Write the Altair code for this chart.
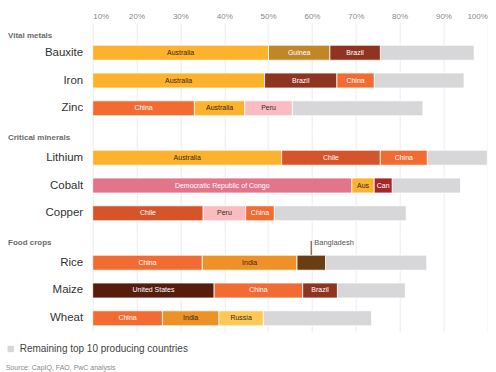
import altair as alt
import pandas as pd

FONT = "Liberation Sans"
AXIS_MIN, AXIS_MAX = 10, 100

groups = ["Vital metals", "Critical minerals", "Food crops"]
group_items = [
    ["Bauxite", "Iron", "Zinc"],
    ["Lithium", "Cobalt", "Copper"],
    ["Rice", "Maize", "Wheat"],
]
producers = [
    ["Australia", "Guinea", "Brazil"],
    ["Australia", "Brazil", "China"],
    ["China", "Australia", "Peru"],
    ["Australia", "Chile", "China"],
    ["Democratic Republic of Congo", "Aus", "Can"],
    ["Chile", "Peru", "China"],
    ["China", "India", "Bangladesh"],
    ["United States", "China", "Brazil"],
    ["China", "India", "Russia"],
]
# share widths in percentage points
shares = [
    [40.1, 14.0, 11.5],
    [39.2, 16.5, 8.5],
    [23.2, 11.5, 10.8],
    [43.1, 22.5, 10.7],
    [59.1, 5.1, 4.1],
    [25.2, 9.7, 6.5],
    [25.0, 21.6, 6.5],
    [27.7, 20.2, 7.9],
    [15.9, 12.9, 10.1],
]
remaining = [21.4, 20.5, 29.8, 13.7, 15.6, 30.1, 23.1, 15.5, 24.7]
rest_label = "Remaining top 10 producing countries"
source_text = "Source: CapIQ, FAO, PwC analysis"
annotated = "Bangladesh"

country_colors = {
    "Australia": "#fdb22e",
    "Aus": "#fdb22e",
    "Guinea": "#c18628",
    "Brazil": "#8f3420",
    "China": "#f26b32",
    "Peru": "#f9bcc1",
    "Chile": "#d5542a",
    "Democratic Republic of Congo": "#e2758a",
    "Can": "#a3282a",
    "India": "#ee9127",
    "Bangladesh": "#6a3e13",
    "United States": "#561c0d",
    "Russia": "#fdc956",
}
dark_text = {"Australia", "Aus", "Peru", "India", "Russia"}
REST_COLOR = "#d7d7d9"

rows = []
k = 0
for g, items in zip(groups, group_items):
    for item in items:
        pos = AXIS_MIN
        for lab, w in zip(producers[k], shares[k]):
            rows.append(dict(group=g, commodity=item, label=lab, kind="seg",
                             start=pos, end=pos + w))
            pos += w
        rows.append(dict(group=g, commodity=item, label=rest_label, kind="rest",
                         start=pos, end=pos + remaining[k]))
        k += 1
df = pd.DataFrame(rows)
df["mid"] = (df["start"] + df["end"]) / 2
df["fillc"] = df["label"].map(country_colors).fillna(REST_COLOR)
df["textc"] = df["label"].apply(lambda s: "#3a2a12" if s in dark_text else "#ffffff")
df["text"] = df["label"].apply(lambda s: "" if s == annotated else s)

panel_cfg = [
    # height, paddingOuter, align, title offset
    (104.4, 0.608, 0.657, -28),
    (104.4, 0.608, 0.657, -14),
    (99.3, 0.516, 0.7735, -14),
]

xscale = alt.Scale(domain=[AXIS_MIN, AXIS_MAX], nice=False, zero=False)


def make_panel(i):
    g = groups[i]
    h, po, al, toff = panel_cfg[i]
    d = df[df["group"] == g]
    if i == 0:
        xaxis = alt.Axis(orient="top", values=list(range(10, 101, 10)),
                         labelExpr="datum.value + '%'", labelFontSize=8,
                         labelColor="#8a8a8a", labelFont=FONT, ticks=False,
                         tickSize=0, domain=False, labelPadding=3,
                         gridColor="#ececec", gridWidth=1, title=None)
    else:
        xaxis = alt.Axis(orient="top", values=list(range(10, 101, 10)),
                         labels=False, ticks=False, tickSize=0, domain=False,
                         gridColor="#ececec", gridWidth=1, title=None)
    y = alt.Y("commodity:N", sort=group_items[i], title=None,
              scale=alt.Scale(paddingInner=0.46, paddingOuter=po, align=al),
              axis=alt.Axis(labelFontSize=11.5, labelColor="#333333",
                            labelFont=FONT, labelPadding=10, ticks=False,
                            tickSize=0, domain=False, grid=False))
    x = alt.X("start:Q", scale=xscale, axis=xaxis, title=None)

    segs = alt.Chart(d[d["kind"] == "seg"]).mark_bar(
        stroke="white", strokeWidth=0.8).encode(
        x=x, x2="end:Q", y=y, fill=alt.Fill("fillc:N", scale=None))
    rest = alt.Chart(d[d["kind"] == "rest"]).mark_bar(
        stroke="white", strokeWidth=0.8).encode(
        x=x, x2="end:Q", y=y,
        color=alt.Color("label:N",
                        scale=alt.Scale(domain=[rest_label], range=[REST_COLOR]),
                        legend=alt.Legend(orient="none", legendX=-87, legendY=321,
                                          title=None, labelFontSize=10,
                                          labelColor="#444444", labelFont=FONT,
                                          labelLimit=400,
                                          symbolType="square", symbolSize=40,
                                          symbolStrokeWidth=0, labelOffset=4)))
    text = alt.Chart(d[d["kind"] == "seg"]).mark_text(
        fontSize=7, font=FONT).encode(
        x=alt.X("mid:Q", scale=xscale, axis=xaxis, title=None), y=y,
        text="text:N", fill=alt.Fill("textc:N", scale=None))
    layers = [rest, segs, text]
    if annotated in set(d["label"]):
        ad = d[d["label"] == annotated]
        lead = alt.Chart(ad).mark_tick(
            orient="vertical", color="#6a3e13", thickness=1.5, size=14,
            yOffset=-14.8).encode(x=alt.X("mid:Q", scale=xscale, axis=xaxis, title=None), y=y)
        atext = alt.Chart(ad).mark_text(
            fontSize=7.5, font=FONT, align="left", dx=3, dy=-20,
            color="#555555").encode(
            x=alt.X("mid:Q", scale=xscale, axis=xaxis, title=None), y=y,
            text="label:N")
        layers += [lead, atext]
    return alt.layer(*layers).properties(
        width=394.6, height=h,
        title=alt.TitleParams(g, anchor="start", frame="group", dx=-84.7,
                              offset=toff, fontSize=8, fontWeight="bold",
                              color="#6b6b6b", font=FONT))


chart = alt.vconcat(*[make_panel(i) for i in range(3)], spacing=0).properties(
    title=alt.TitleParams(source_text, orient="bottom", anchor="start",
                          fontSize=7, color="#8a8a8a", font=FONT,
                          fontWeight="normal", offset=10),
    padding={"left": 5.7, "top": 12, "right": 0, "bottom": 5},
    background="white",
).resolve_scale(color="shared").configure_view(stroke=None)

chart.save("out.html", embed_options={"renderer": "svg", "actions": False})
